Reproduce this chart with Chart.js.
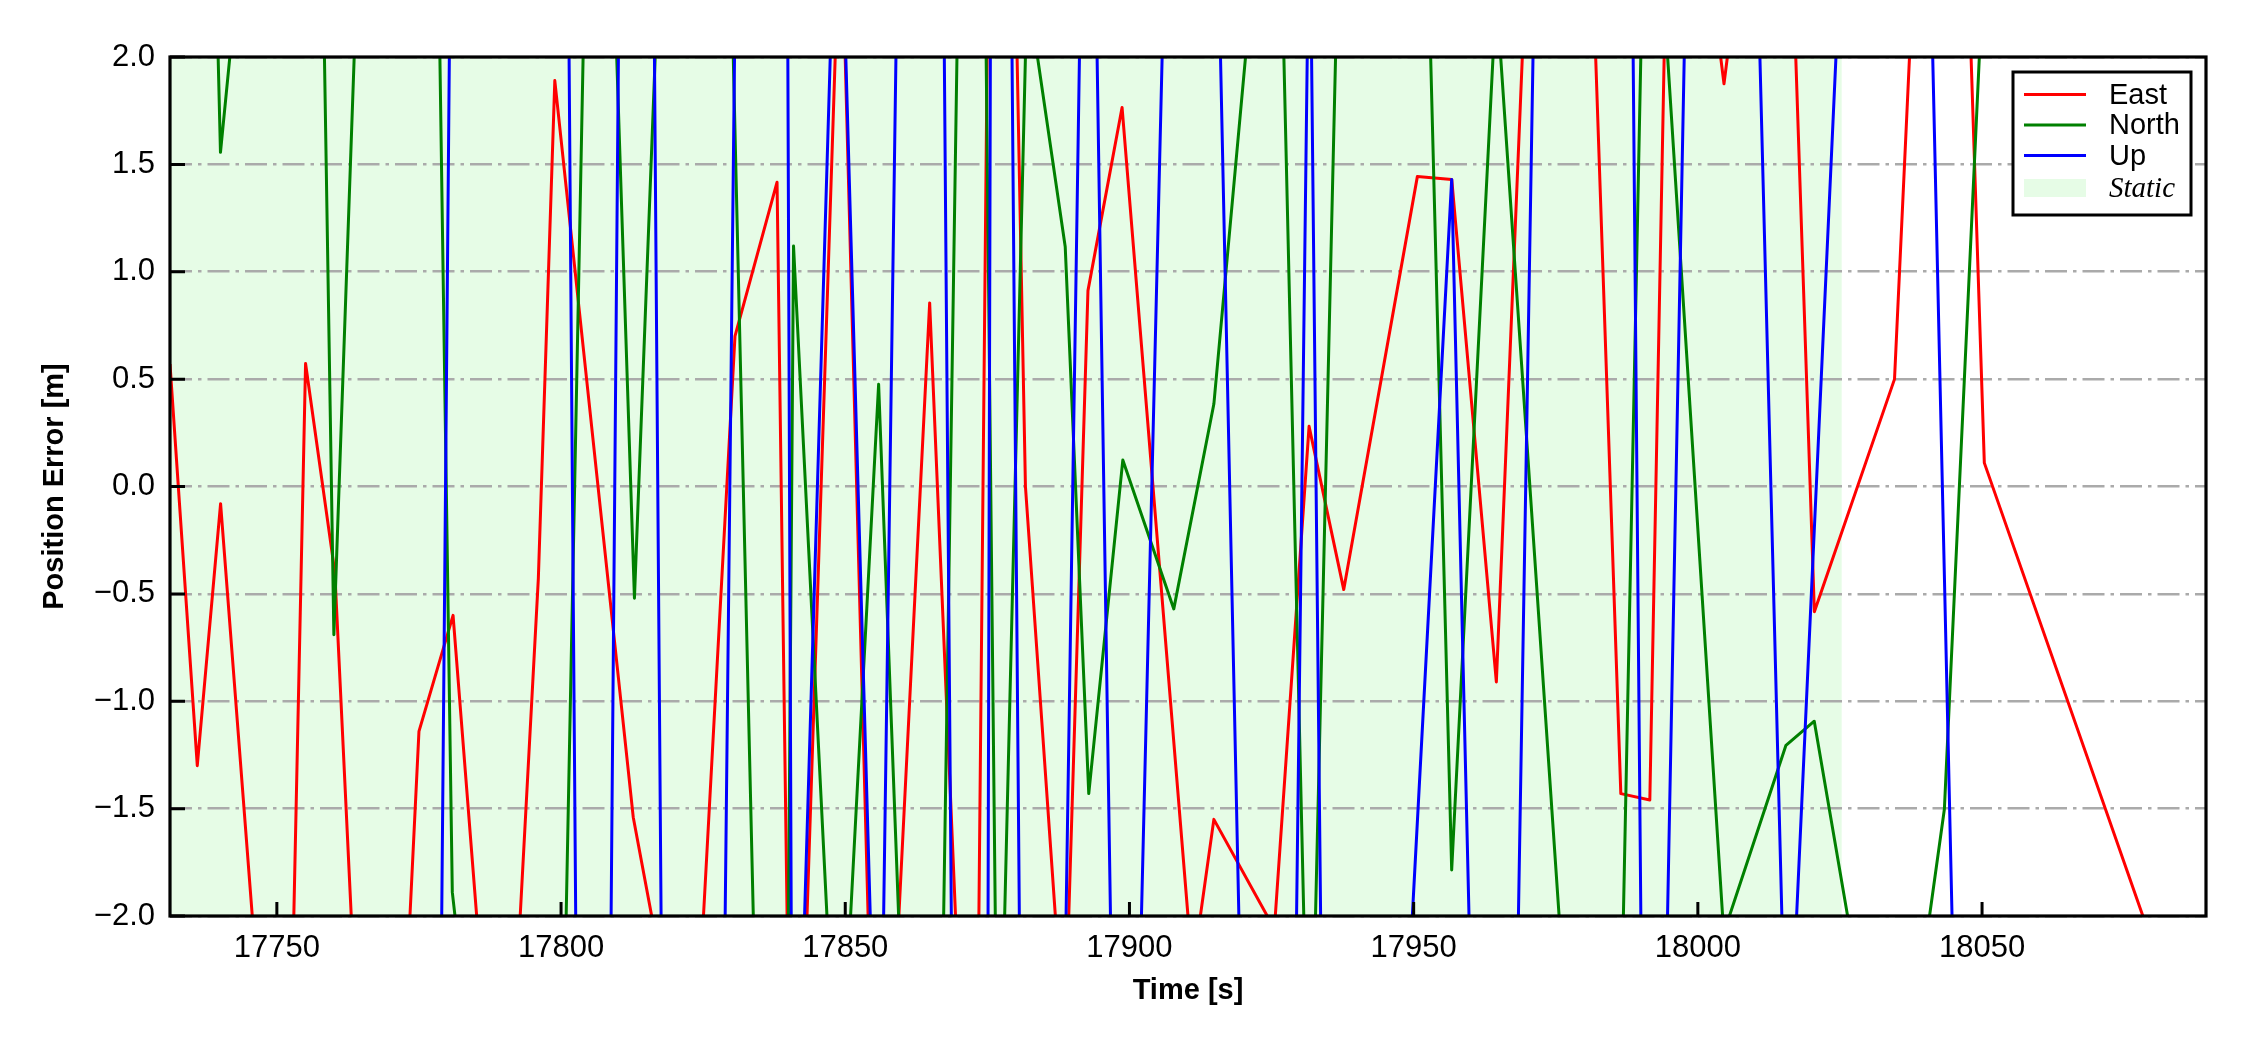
<!DOCTYPE html>
<html>
<head>
<meta charset="utf-8">
<script src="https://cdn.jsdelivr.net/npm/chart.js@4.4.1/dist/chart.umd.min.js"></script>
<style>
html,body{margin:0;padding:0;background:#ffffff;}
canvas{display:block;}
</style>
</head>
<body>
<canvas id="c" width="2250" height="1050"></canvas>
<script>
// ---------------- data ----------------
const seriesNames = ['East', 'North', 'Up'];
const staticLabel = 'Static';
const axisTitles = { x: 'Time [s]', y: 'Position Error [m]' };

const eastT = [17731.2, 17736.0, 17740.1, 17751.4, 17755.05, 17760.2, 17768.2, 17775.0, 17781.0, 17789.7,
               17796.0, 17798.9, 17812.7, 17823.0, 17830.6, 17838.0, 17840.8, 17849.2, 17855.9, 17864.85,
               17872.75, 17876.7, 17881.7, 17888.6, 17892.7, 17898.7, 17911.1, 17914.85, 17925.5, 17931.6,
               17937.7, 17950.65, 17956.7, 17964.55, 17976.2, 17986.45, 17991.55, 17995.4, 18004.6, 18014.7,
               18020.5, 18034.6, 18043.6, 18050.4, 18089.4];
const eastV = [0.57, -1.30, -0.08, -3.97, 0.573, -0.40, -4.83, -1.14, -0.60, -3.53,
               -0.43, 1.89, -1.54, -3.0, 0.70, 1.417, -3.99, 2.78, -3.86, 0.855,
               -4.1, 6.81, 0.0, -2.62, 0.912, 1.765, -2.26, -1.55, -2.06, 0.28,
               -0.48, 1.443, 1.43, -0.91, 6.51, -1.43, -1.46, 3.82, 1.875, 3.99,
               -0.583, 0.50, 5.62, 0.11, -2.84];

const northT = [17731.2, 17736.0, 17740.08, 17756.0, 17760.03, 17774.2, 17780.87, 17798.0, 17806.1, 17812.91,
                17825.1, 17838.5, 17840.9, 17848.8, 17855.87, 17865.0, 17872.7, 17876.9, 17882.0, 17888.7,
                17892.84, 17898.83, 17907.8, 17914.85, 17925.8, 17931.7, 17944.2, 17956.69, 17964.54, 17984.3,
                17991.1, 18004.55, 18015.5, 18020.48, 18034.3, 18043.37, 18050.4, 18089.4];
const northV = [4.0, 5.96, 1.556, 5.85, -0.69, 9.97, -1.89, -5.89, 4.98, -0.52,
                7.89, -7.3, 1.12, -3.07, 0.476, -5.94, 7.2, -3.25, 2.33, 1.116,
                -1.43, 0.123, -0.57, 0.384, 3.56, -3.17, 11.0, -1.786, 2.30, -5.39,
                3.48, -2.08, -1.205, -1.093, -3.23, -1.503, 2.5, 3.5];

const upT = [17731.2, 17778.67, 17780.68, 17801.12, 17802.87, 17808.48, 17810.41, 17816.14, 17817.89, 17828.46,
             17830.93, 17839.75, 17840.64, 17841.71, 17848.49, 17849.02, 17855.48, 17856.21, 17859.46, 17867.12,
             17868.97, 17875.02, 17875.63, 17879.02, 17880.95, 17888.26, 17891.79, 17893.72, 17897.25, 17901.2,
             17906.66, 17915.21, 17920.06, 17928.93, 17931.69, 17934.03, 17947.75, 17956.69, 17960.63, 17967.79,
             17971.64, 17988.28, 17990.31, 17993.93, 17998.34, 18009.95, 18015.71, 18026.03, 18040.47, 18045.57,
             18089.4];
const upV = [-3, -3, 3, 3, -3, -3, 3, 3, -3, -3,
             3, 3, -3, -3, 3, 3, -3, -3, 3, 3,
             -3, -3, 3, 3, -3, -3, 3, 3, -3, -3,
             3, 3, -3, -3, 2.88, -3, -3, 1.43, -3, -3,
             3, 3, -3, -3, 3, 3, -2.96, 3, 3, -3,
             -3];

const staticSpan = [17731.2, 18025.3];
const xRange = [17731.2, 18089.4];
const yRange = [-2, 2];
const xTicks = [17750, 17800, 17850, 17900, 17950, 18000, 18050];
const yTicks = [-2.0, -1.5, -1.0, -0.5, 0.0, 0.5, 1.0, 1.5, 2.0];

// ---------------- styling ----------------
const FONT = '"Liberation Sans", Arial, Helvetica, sans-serif';
const SERIF = '"Liberation Serif", "Times New Roman", serif';
const COLORS = ['#ff0000', '#008000', '#0000ff'];
const STATIC_FILL = 'rgb(230,252,230)';

function pts(T, V) { return T.map((t, i) => ({ x: t, y: V[i] })); }

const shadePlugin = {
  id: 'staticShade',
  beforeDraw(chart) {
    const { ctx, chartArea: a, scales: { x } } = chart;
    const x0 = Math.max(a.left, x.getPixelForValue(staticSpan[0]));
    const x1 = Math.min(a.right, x.getPixelForValue(staticSpan[1]));
    ctx.save();
    ctx.fillStyle = STATIC_FILL;
    ctx.fillRect(x0, a.top, x1 - x0, a.bottom - a.top);
    ctx.restore();
  }
};

const framePlugin = {
  id: 'frameTicks',
  afterDatasetsDraw(chart) {
    const { ctx, chartArea: a, scales: { x, y } } = chart;
    ctx.save();
    ctx.strokeStyle = '#000';
    ctx.lineWidth = 3;
    ctx.beginPath();
    xTicks.forEach(v => { const px = x.getPixelForValue(v); ctx.moveTo(px, a.bottom); ctx.lineTo(px, a.bottom - 14); });
    yTicks.forEach(v => { const py = y.getPixelForValue(v); ctx.moveTo(a.left, py); ctx.lineTo(a.left + 15, py); });
    ctx.stroke();
    ctx.lineWidth = 3.2;
    ctx.strokeRect(a.left, a.top, a.right - a.left, a.bottom - a.top);
    ctx.restore();
  }
};

const legendPlugin = {
  id: 'boxLegend',
  afterDraw(chart) {
    const { ctx, chartArea: a } = chart;
    const w = 178, h = 143;
    const bx = a.right - 15 - w, by = a.top + 15;
    ctx.save();
    ctx.fillStyle = '#ffffff';
    ctx.fillRect(bx, by, w, h);
    ctx.strokeStyle = '#000';
    ctx.lineWidth = 3;
    ctx.strokeRect(bx, by, w, h);
    const rows = [22.5, 53, 83.5];
    ctx.textBaseline = 'middle';
    ctx.textAlign = 'left';
    seriesNames.forEach((name, i) => {
      const yy = by + rows[i];
      ctx.strokeStyle = COLORS[i];
      ctx.lineWidth = 3;
      ctx.beginPath();
      ctx.moveTo(bx + 11, yy);
      ctx.lineTo(bx + 73, yy);
      ctx.stroke();
      ctx.fillStyle = '#000';
      ctx.font = '29px ' + FONT;
      ctx.fillText(name, bx + 96, yy + 1);
    });
    ctx.fillStyle = STATIC_FILL;
    ctx.fillRect(bx + 11, by + 107, 62, 18);
    ctx.fillStyle = '#000';
    ctx.font = 'italic 29px ' + SERIF;
    ctx.fillText(staticLabel, bx + 96, by + 117);
    ctx.restore();
  }
};

const fmtY = v => (v < 0 ? '\u2212' : '') + Math.abs(v).toFixed(1);

new Chart(document.getElementById('c'), {
  type: 'line',
  data: {
    datasets: [
      { label: seriesNames[0], data: pts(eastT, eastV), borderColor: COLORS[0], order: 3, clip: 0 },
      { label: seriesNames[1], data: pts(northT, northV), borderColor: COLORS[1], order: 2, clip: 0 },
      { label: seriesNames[2], data: pts(upT, upV), borderColor: COLORS[2], order: 1, clip: 0 }
    ]
  },
  options: {
    responsive: false,
    maintainAspectRatio: false,
    devicePixelRatio: 1,
    animation: false,
    events: [],
    layout: { padding: { left: 0, right: 44, top: 57, bottom: 0 } },
    elements: {
      line: { borderWidth: 3, tension: 0, fill: false, borderJoinStyle: 'round', borderCapStyle: 'butt' },
      point: { radius: 0, hoverRadius: 0 }
    },
    plugins: { legend: { display: false }, tooltip: { enabled: false } },
    scales: {
      x: {
        type: 'linear', position: 'bottom', min: xRange[0], max: xRange[1],
        afterBuildTicks: s => { s.ticks = xTicks.map(v => ({ value: v })); },
        afterFit: s => { s.height = 134; },
        grid: { display: false, drawTicks: false },
        border: { display: false },
        ticks: { font: { family: FONT, size: 31 }, color: '#000', padding: 14, maxRotation: 0, minRotation: 0, autoSkip: false,
                 callback: v => String(v) },
        title: { display: true, text: axisTitles.x, color: '#000', font: { family: FONT, size: 29, weight: 'bold' },
                 padding: { top: 0, bottom: 42 } }
      },
      y: {
        type: 'linear', position: 'left', min: yRange[0], max: yRange[1],
        afterBuildTicks: s => { s.ticks = yTicks.map(v => ({ value: v })); },
        afterFit: s => { s.width = 170; },
        grid: { display: true, drawTicks: false, color: '#aaaaaa', lineWidth: 2.6 },
        border: { display: false, dash: [22, 6, 3.5, 6] },
        ticks: { font: { family: FONT, size: 31 }, color: '#000', padding: 15, autoSkip: false, callback: fmtY },
        title: { display: true, text: axisTitles.y, color: '#000', font: { family: FONT, size: 29, weight: 'bold' },
                 padding: { top: 38, bottom: 0 } }
      }
    }
  },
  plugins: [shadePlugin, framePlugin, legendPlugin]
});
</script>
</body>
</html>
